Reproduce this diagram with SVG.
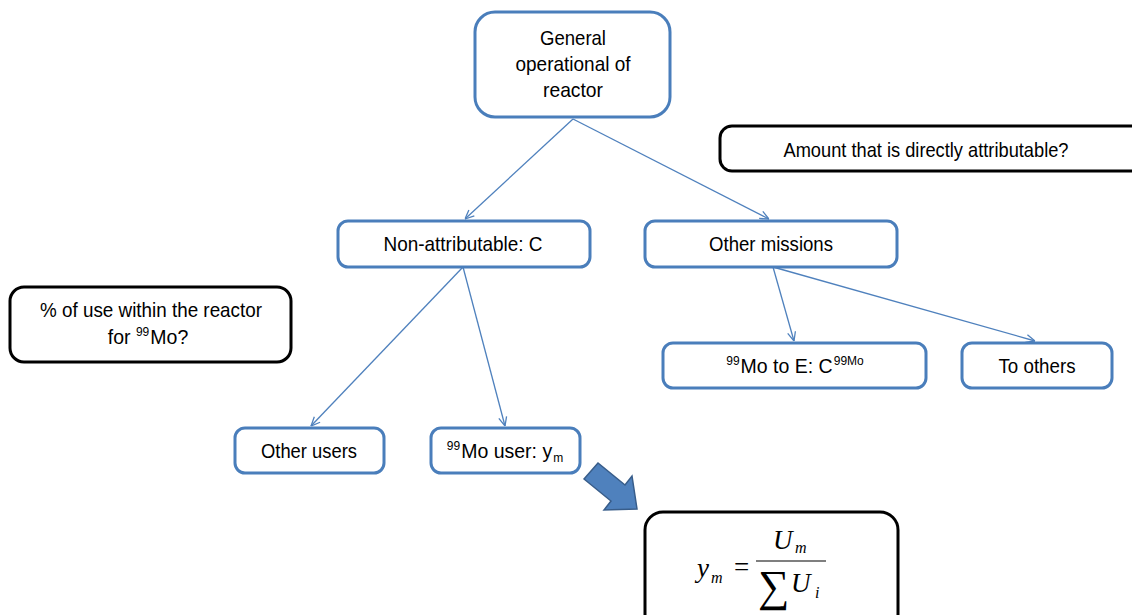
<svg xmlns="http://www.w3.org/2000/svg" width="1132" height="615" viewBox="0 0 1132 615">
  <defs>
    <marker id="chevron" viewBox="0 0 10 10" refX="10" refY="5" markerWidth="10" markerHeight="10" markerUnits="userSpaceOnUse" orient="auto">
      <path d="M1,1 L10,5 L1,9" fill="none" stroke="#4f81bd" stroke-width="1.3"/>
    </marker>
  </defs>
  <style>
    .node { fill: #ffffff; stroke: #4a7ebb; stroke-width: 3; }
    .note { fill: #ffffff; stroke: #000000; stroke-width: 3; }
    .label { font-family: "Liberation Sans", Arial, sans-serif; font-size: 21px; fill: #000000; text-anchor: middle; }
    .narrow { font-size: 19.5px; }
    .sup { font-size: 12px; }
    .link { fill: none; stroke: #4f81bd; stroke-width: 1.3; marker-end: url(#chevron); }
    .math { font-family: "Liberation Serif", "Times New Roman", serif; fill: #000000; }
  </style>

  <rect width="1132" height="615" fill="#ffffff"/>

  <!-- connectors -->
  <g id="connectors">
    <line class="link" x1="573" y1="119" x2="465" y2="219"/>
    <line class="link" x1="573" y1="119" x2="769" y2="219"/>
    <line class="link" x1="463" y1="267" x2="311" y2="426"/>
    <line class="link" x1="463" y1="267" x2="505" y2="426"/>
    <line class="link" x1="773" y1="267" x2="794" y2="341"/>
    <line class="link" x1="773" y1="267" x2="1035" y2="341"/>
  </g>

  <!-- root -->
  <g id="general">
    <rect class="node" x="475" y="12" width="195" height="105" rx="20"/>
    <text class="label" x="573" y="45" textLength="66" lengthAdjust="spacingAndGlyphs">General</text>
    <text class="label" x="573" y="71" textLength="115" lengthAdjust="spacingAndGlyphs">operational of</text>
    <text class="label" x="573" y="97" textLength="60" lengthAdjust="spacingAndGlyphs">reactor</text>
  </g>

  <g id="amount-note">
    <rect class="note" x="720" y="126" width="425" height="45" rx="12"/>
    <text class="label" x="926" y="157" textLength="285" lengthAdjust="spacingAndGlyphs">Amount that is directly attributable?</text>
  </g>

  <g id="non-attributable">
    <rect class="node" x="338" y="221" width="252" height="46" rx="10"/>
    <text class="label" x="463" y="251" textLength="159" lengthAdjust="spacingAndGlyphs">Non-attributable: C</text>
  </g>

  <g id="other-missions">
    <rect class="node" x="645" y="221" width="252" height="46" rx="10"/>
    <text class="label" x="771" y="251" textLength="124" lengthAdjust="spacingAndGlyphs">Other missions</text>
  </g>

  <g id="use-note">
    <rect class="note" x="10" y="287" width="281" height="75" rx="14"/>
    <text class="label" x="151" y="317" textLength="222" lengthAdjust="spacingAndGlyphs">% of use within the reactor</text>
    <text class="label narrow" x="148" y="344">for <tspan class="sup" dy="-8">99</tspan><tspan dy="8" dx="1">Mo?</tspan></text>
  </g>

  <g id="mo-to-e">
    <rect class="node" x="663" y="343" width="263" height="45" rx="10"/>
    <text class="label narrow" x="795" y="373"><tspan class="sup" dy="-8">99</tspan><tspan dy="8" dx="1">Mo to E: C</tspan><tspan class="sup" dy="-8" dx="1">99Mo</tspan></text>
  </g>

  <g id="to-others">
    <rect class="node" x="962" y="343" width="150" height="45" rx="10"/>
    <text class="label" x="1037" y="373" textLength="77" lengthAdjust="spacingAndGlyphs">To others</text>
  </g>

  <g id="other-users">
    <rect class="node" x="235" y="428" width="149" height="45" rx="10"/>
    <text class="label" x="309" y="458" textLength="96" lengthAdjust="spacingAndGlyphs">Other users</text>
  </g>

  <g id="mo-user">
    <rect class="node" x="431" y="428" width="149" height="45" rx="10"/>
    <text class="label narrow" x="505" y="458"><tspan class="sup" dy="-8">99</tspan><tspan dy="8" dx="1">Mo user: y</tspan><tspan class="sup" dy="4" dx="1">m</tspan></text>
  </g>

  <!-- block arrow toward the formula -->
  <g id="block-arrow">
    <polygon points="584,479 598,463 625,485 632,476 637,509 604,510 611,501" fill="#4f81bd" stroke="#385d8a" stroke-width="1.5" stroke-linejoin="miter"/>
  </g>

  <g id="formula">
    <rect class="note" x="645" y="512" width="253" height="120" rx="18"/>
    <text class="math" font-style="italic" font-size="27" x="697" y="577">y</text>
    <text class="math" font-style="italic" font-size="16" x="711" y="583">m</text>
    <text class="math" font-size="27" x="734" y="576">=</text>
    <line x1="756" y1="561" x2="826" y2="561" stroke="#000000" stroke-width="1.2"/>
    <text class="math" font-style="italic" font-size="27" x="773" y="549">U</text>
    <text class="math" font-style="italic" font-size="16" x="795" y="553">m</text>
    <text class="math" font-size="44" x="758" y="601">∑</text>
    <text class="math" font-style="italic" font-size="27" x="791" y="592">U</text>
    <text class="math" font-style="italic" font-size="16" x="815" y="598">i</text>
  </g>
</svg>
